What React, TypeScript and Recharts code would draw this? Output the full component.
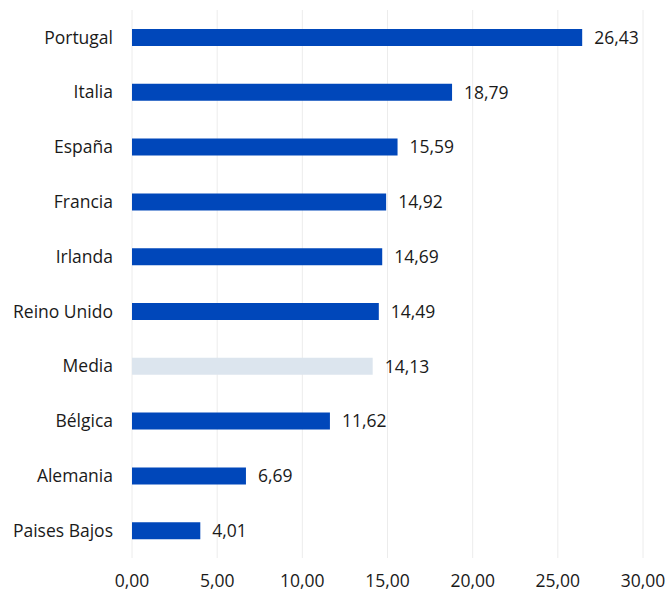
import { BarChart, Bar, XAxis, YAxis, CartesianGrid, Cell, LabelList } from "recharts";

const countries = [
    "Portugal",
    "Italia",
    "España",
    "Francia",
    "Irlanda",
    "Reino Unido",
    "Media",
    "Bélgica",
    "Alemania",
    "Paises Bajos",
];
const values = [26.43, 18.79, 15.59, 14.92, 14.69, 14.49, 14.13, 11.62, 6.69, 4.01];
const xTicks = [0, 5, 10, 15, 20, 25, 30];

const data = countries.map((name, i) => ({ name, value: values[i] }));

const fmt = (v: number) => Number(v).toFixed(2).replace(".", ",");
const font = "'Open Sans', sans-serif";

export default function App() {
    return (
        <div style={{ position: "absolute", left: 0, top: 0, width: 668, height: 601, background: "#fff" }}>
            <BarChart
                width={668}
                height={601}
                data={data}
                layout="vertical"
                margin={{ top: 10, right: 25, bottom: 0, left: 0 }}
                barCategoryGap={0}
            >
                <CartesianGrid horizontal={false} stroke="#ececec" />
                <XAxis
                    type="number"
                    domain={[0, 30]}
                    ticks={xTicks}
                    tickFormatter={fmt}
                    axisLine={false}
                    tickLine={false}
                    height={43}
                    tickMargin={11}
                    interval={0}
                    tick={{ fill: "#1a1a1a", fontSize: 17.5, fontFamily: font }}
                />
                <YAxis
                    type="category"
                    dataKey="name"
                    width={132}
                    axisLine={false}
                    tickLine={false}
                    tickMargin={13}
                    interval={0}
                    tick={{ fill: "#1a1a1a", fontSize: 17.5, fontFamily: font }}
                />
                <Bar dataKey="value" barSize={17} isAnimationActive={false}>
                    {data.map((d) => (
                        <Cell key={d.name} fill={d.name === "Media" ? "#dce5ee" : "#0047ba"} />
                    ))}
                    <LabelList
                        dataKey="value"
                        position="right"
                        offset={12}
                        formatter={fmt}
                        style={{ fill: "#1a1a1a", fontSize: 17.5, fontFamily: font }}
                    />
                </Bar>
            </BarChart>
        </div>
    );
}
